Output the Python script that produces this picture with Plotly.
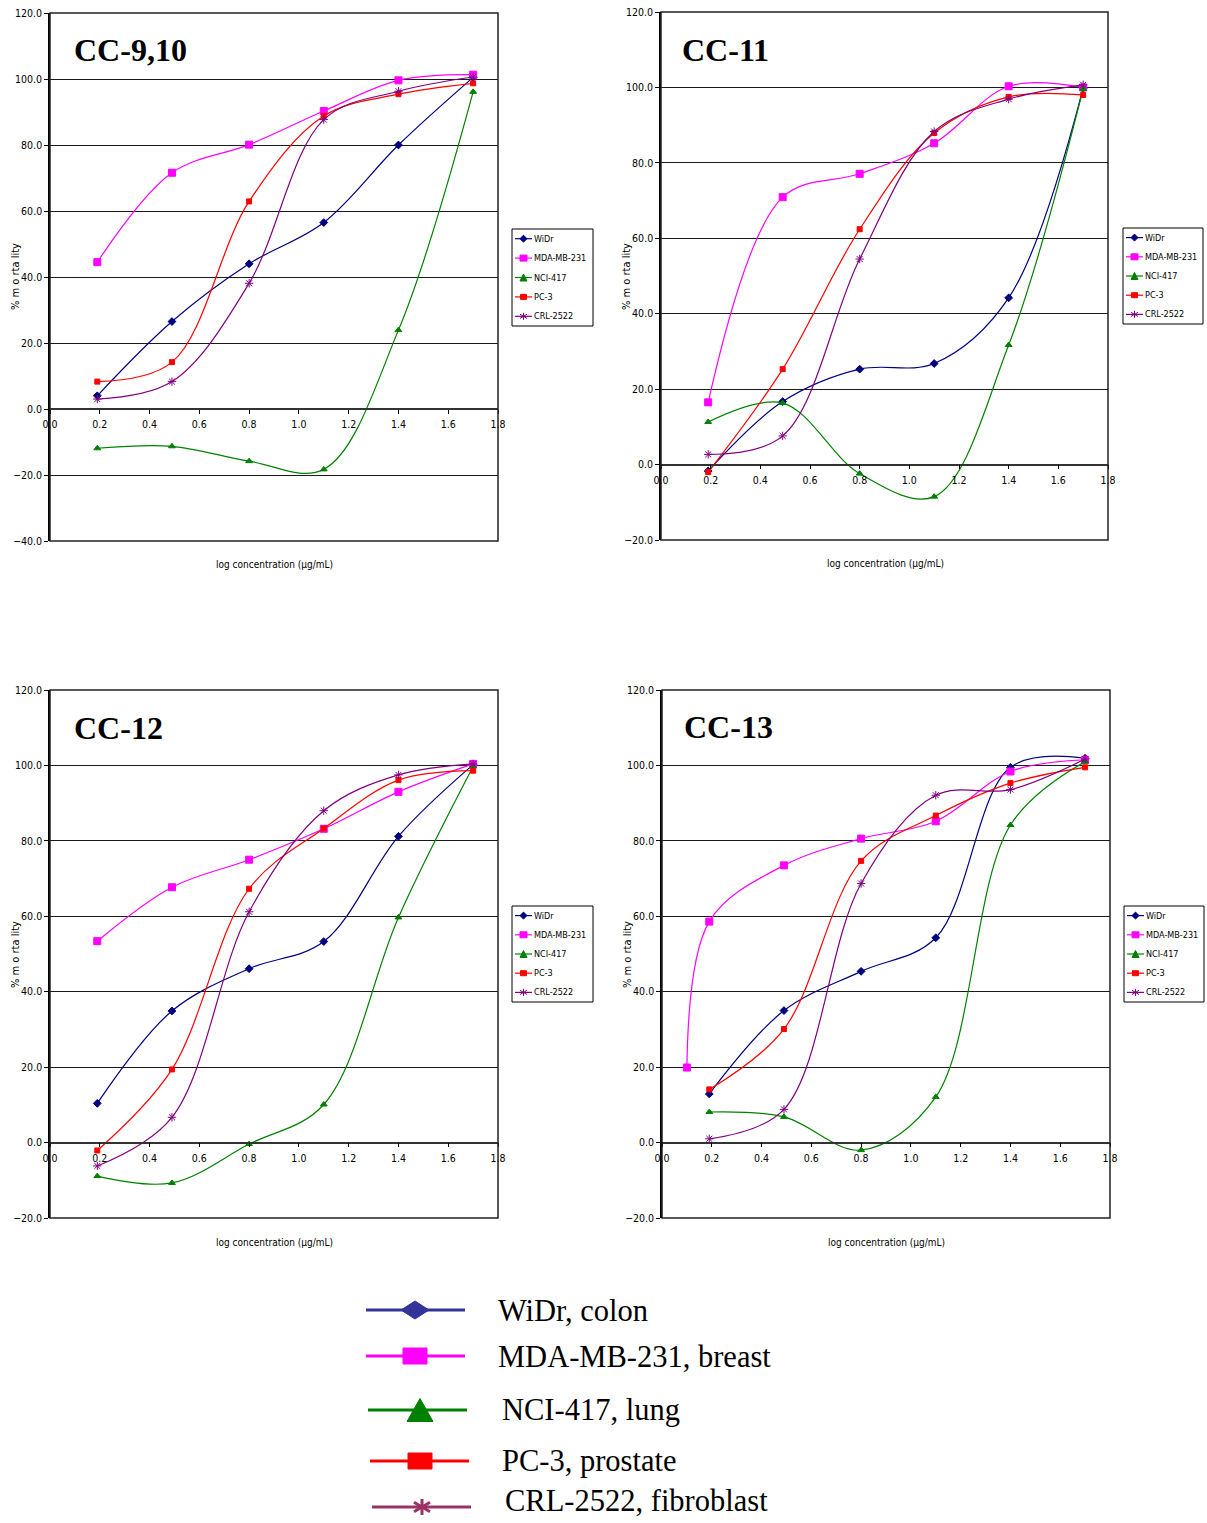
import plotly.graph_objects as go

W, H = 1207, 1523

# ---------------- data ----------------
cell_lines = ["WiDr", "MDA-MB-231", "NCI-417", "PC-3", "CRL-2522"]
log_conc = [0.19, 0.49, 0.80, 1.10, 1.40, 1.70]
log_conc_cc13_mda = [0.10, 0.19, 0.49, 0.80, 1.10, 1.40, 1.70]

cc910_widr = [4.0, 26.5, 44.0, 56.5, 80.0, 100.5]
cc910_mda = [44.5, 71.6, 80.1, 90.3, 99.6, 101.3]
cc910_nci = [-11.9, -11.3, -15.8, -18.3, 23.9, 96.1]
cc910_pc3 = [8.3, 14.2, 62.9, 88.8, 95.4, 98.7]
cc910_crl = [3.0, 8.3, 38.1, 87.7, 96.3, 100.6]

cc11_widr = [-1.7, 16.7, 25.3, 26.8, 44.2, 99.8]
cc11_mda = [16.5, 70.9, 77.1, 85.2, 100.3, 100.0]
cc11_nci = [11.3, 16.3, -2.4, -8.5, 31.7, 99.6]
cc11_pc3 = [-2.0, 25.3, 62.4, 87.9, 97.5, 98.0]
cc11_crl = [2.7, 7.6, 54.5, 88.3, 96.9, 100.7]

cc12_widr = [10.4, 34.9, 46.1, 53.3, 81.2, 100.2]
cc12_mda = [53.4, 67.7, 75.0, 83.2, 93.0, 100.4]
cc12_nci = [-8.9, -10.7, -0.4, 10.1, 59.7, 99.7]
cc12_pc3 = [-2.1, 19.4, 67.3, 83.3, 96.1, 98.6]
cc12_crl = [-6.2, 6.7, 61.2, 88.0, 97.5, 100.4]

cc13_widr = [12.9, 35.0, 45.4, 54.3, 99.5, 101.9]
cc13_mda = [19.9, 58.6, 73.5, 80.6, 85.2, 98.4, 101.5]
cc13_nci = [8.1, 6.8, -2.0, 12.1, 84.2, 101.0]
cc13_pc3 = [14.1, 30.1, 74.7, 86.7, 95.3, 99.5]
cc13_crl = [1.0, 8.8, 68.7, 92.1, 93.6, 101.7]

panel_titles = ["CC-9,10", "CC-11", "CC-12", "CC-13"]
x_ticks = [0.0, 0.2, 0.4, 0.6, 0.8, 1.0, 1.2, 1.4, 1.6, 1.8]
big_legend_labels = ["WiDr, colon", "MDA-MB-231, breast", "NCI-417, lung",
                     "PC-3, prostate", "CRL-2522, fibroblast"]

panel_data = [
    [(log_conc, cc910_widr), (log_conc, cc910_mda), (log_conc, cc910_nci), (log_conc, cc910_pc3), (log_conc, cc910_crl)],
    [(log_conc, cc11_widr), (log_conc, cc11_mda), (log_conc, cc11_nci), (log_conc, cc11_pc3), (log_conc, cc11_crl)],
    [(log_conc, cc12_widr), (log_conc, cc12_mda), (log_conc, cc12_nci), (log_conc, cc12_pc3), (log_conc, cc12_crl)],
    [(log_conc, cc13_widr), (log_conc_cc13_mda, cc13_mda), (log_conc, cc13_nci), (log_conc, cc13_pc3), (log_conc, cc13_crl)],
]

# ---------------- styles ----------------
colors = ["#000080", "#FF00FF", "#008000", "#FF0000", "#800080"]
symbols = ["diamond", "square", "triangle-up", "square", "asterisk-open"]
marker_kinds = ["diamond", "square", "triangle", "square", "star"]
msizes = [6, 7, 6, 5, 7]
NARROW = "DejaVu Sans Condensed, Liberation Sans Narrow, Arial Narrow, sans-serif"
SERIF = "Liberation Serif, Times New Roman, serif"

panels = [
    dict(l=50, r=498, t=13, b=541, yr=(-40, 120), title_xy=(72, 50), ytitle_xy=(15, 277), xtitle_xy=(274, 565), leg=(512, 593, 229, 326)),
    dict(l=661, r=1108, t=12, b=540, yr=(-20, 120), title_xy=(680, 50), ytitle_xy=(626, 277), xtitle_xy=(885, 563), leg=(1123, 1203, 228, 324)),
    dict(l=50, r=498, t=690, b=1218, yr=(-20, 120), title_xy=(72, 728), ytitle_xy=(15, 955), xtitle_xy=(274, 1242), leg=(512, 593, 906, 1002)),
    dict(l=662, r=1110, t=690, b=1218, yr=(-20, 120), title_xy=(682, 727), ytitle_xy=(627, 955), xtitle_xy=(886, 1242), leg=(1124, 1204, 906, 1002)),
]


def px(x):
    return x / W


def py(y):
    return 1 - y / H


def path_px(points, close=True):
    s = "M " + " L ".join("%f,%f" % (px(x), py(y)) for x, y in points)
    return s + (" Z" if close else "")


def line_shape(x0, y0, x1, y1, color, width):
    return dict(type="line", xref="paper", yref="paper", x0=px(x0), y0=py(y0),
                x1=px(x1), y1=py(y1), line=dict(color=color, width=width))


def marker_shapes(kind, cx, cy, w, h, color, lw=1):
    if kind == "diamond":
        pts = [(cx - w, cy), (cx, cy - h), (cx + w, cy), (cx, cy + h)]
        return [dict(type="path", xref="paper", yref="paper", path=path_px(pts),
                     fillcolor=color, line=dict(color=color, width=lw))]
    if kind == "square":
        return [dict(type="rect", xref="paper", yref="paper", x0=px(cx - w), x1=px(cx + w),
                     y0=py(cy - h), y1=py(cy + h), fillcolor=color, line=dict(color=color, width=lw))]
    if kind == "triangle":
        pts = [(cx - w, cy + h), (cx, cy - h), (cx + w, cy + h)]
        return [dict(type="path", xref="paper", yref="paper", path=path_px(pts),
                     fillcolor=color, line=dict(color=color, width=lw))]
    # star: vertical stroke + two diagonals
    return [line_shape(cx, cy - h, cx, cy + h, color, lw),
            line_shape(cx - w, cy - 0.6 * h, cx + w, cy + 0.6 * h, color, lw),
            line_shape(cx - w, cy + 0.6 * h, cx + w, cy - 0.6 * h, color, lw)]


fig = go.Figure()
layout = dict(width=W, height=H, margin=dict(l=0, r=0, t=0, b=0, autoexpand=False),
              paper_bgcolor="white", plot_bgcolor="white", showlegend=False)
annotations = []
shapes = []

small_marker_size = [(3.5, 3.5), (3.5, 3.0), (3.5, 3.5), (3.0, 2.5), (3.5, 3.5)]

for i, (p, series) in enumerate(zip(panels, panel_data)):
    k = "" if i == 0 else str(i + 1)
    xa, ya = "x" + k, "y" + k
    for j, (xs, ys) in enumerate(series):
        fig.add_trace(go.Scatter(
            x=xs, y=ys, name=cell_lines[j], mode="lines+markers", showlegend=False,
            line=dict(color=colors[j], width=1.2, shape="spline", smoothing=1.0),
            marker=dict(symbol=symbols[j], size=msizes[j], color=colors[j],
                        line=dict(color=colors[j], width=1)),
            xaxis=xa, yaxis=ya))
    ymin, ymax = p["yr"]
    zero_px = p["t"] + (ymax - 0) / (ymax - ymin) * (p["b"] - p["t"])
    layout["xaxis" + k] = dict(
        domain=[px(p["l"]), px(p["r"])], range=[0, 1.8], anchor="free",
        position=py(zero_px), tickvals=x_ticks, tickformat=".1f",
        showline=True, linecolor="#333333", linewidth=1.5, ticks="outside",
        ticklen=4, tickcolor="black", showgrid=False, zeroline=False,
        tickfont=dict(family=NARROW, size=10.5, color="black"),
        ticklabelstandoff=2, fixedrange=True)
    layout["yaxis" + k] = dict(
        domain=[py(p["b"]), py(p["t"])], range=[ymin, ymax], anchor=xa,
        dtick=20, tickformat=".1f", showline=True, linecolor="black",
        linewidth=1.5, ticks="outside", ticklen=4, tickcolor="black",
        showgrid=True, gridcolor="#1a1a1a", gridwidth=1, zeroline=False,
        tickfont=dict(family=NARROW, size=10.5, color="black"), fixedrange=True)
    shapes.append(dict(type="rect", xref=xa + " domain", yref=ya + " domain",
                       x0=0, x1=1, y0=0, y1=1, line=dict(color="#222222", width=1.5),
                       layer="above"))
    # small per-panel legend
    lx0, lx1, ly0, ly1 = p["leg"]
    shapes.append(dict(type="rect", xref="paper", yref="paper", x0=px(lx0), x1=px(lx1),
                       y0=py(ly1), y1=py(ly0), fillcolor="white",
                       line=dict(color="black", width=1), layer="above"))
    row_h = (ly1 - ly0) / 5.0
    for j in range(5):
        ry = ly0 + row_h * (j + 0.5)
        shapes.append(dict(line_shape(lx0 + 3, ry, lx0 + 20, ry, colors[j], 1.2), layer="above"))
        for s in marker_shapes(marker_kinds[j], lx0 + 11.5, ry, *small_marker_size[j], colors[j], 1):
            s["layer"] = "above"
            shapes.append(s)
        annotations.append(dict(text=cell_lines[j], xref="paper", yref="paper",
                                x=px(lx0 + 21), y=py(ry), xanchor="left", yanchor="middle",
                                showarrow=False, borderpad=0,
                                font=dict(family=NARROW, size=9, color="black")))
    annotations.append(dict(text="<b>%s</b>" % panel_titles[i], xref="paper", yref="paper",
                            x=px(p["title_xy"][0]), y=py(p["title_xy"][1]),
                            xanchor="left", yanchor="middle", showarrow=False,
                            font=dict(family=SERIF, size=32, color="black")))
    annotations.append(dict(text="% m o rta lity", xref="paper", yref="paper",
                            x=px(p["ytitle_xy"][0]), y=py(p["ytitle_xy"][1]),
                            xanchor="center", yanchor="middle", showarrow=False,
                            textangle=-90,
                            font=dict(family=NARROW, size=11, color="black")))
    annotations.append(dict(text="log concentration (µg/mL)", xref="paper", yref="paper",
                            x=px(p["xtitle_xy"][0]), y=py(p["xtitle_xy"][1]),
                            xanchor="center", yanchor="middle", showarrow=False,
                            font=dict(family=NARROW, size=10, color="black")))

# ---------------- big bottom legend ----------------
big_colors = ["#333399", "#FF00FF", "#008000", "#FF0000", "#993366"]
big_rows = [  # line x0, x1, y, marker cx, text x, text y
    (366, 465, 1310, 415, 497, 1311),
    (366, 465, 1356, 415, 497, 1357),
    (368, 467, 1410, 420, 501, 1410),
    (370, 469, 1461, 420, 501, 1461),
    (372, 471, 1507, 422, 504, 1501),
]
big_marker_size = [(14, 9), (12, 8), (13, 11.5), (12, 8), (8, 8)]

for idx, (x0, x1, yy, cx, tx, ty) in enumerate(big_rows):
    c = big_colors[idx]
    shapes.append(line_shape(x0, yy, x1, yy, c, 3))
    lw = 3 if marker_kinds[idx] == "star" else 1
    shapes.extend(marker_shapes(marker_kinds[idx], cx, yy, *big_marker_size[idx], c, lw))
    annotations.append(dict(text=big_legend_labels[idx], xref="paper", yref="paper",
                            x=px(tx), y=py(ty), xanchor="left", yanchor="middle",
                            showarrow=False, borderpad=0,
                            font=dict(family=SERIF, size=30.5, color="black")))

layout["shapes"] = shapes
layout["annotations"] = annotations
fig.update_layout(**layout)

fig.write_html("out.html", config={"displayModeBar": False},
               post_script="document.body.style.margin='0';")
